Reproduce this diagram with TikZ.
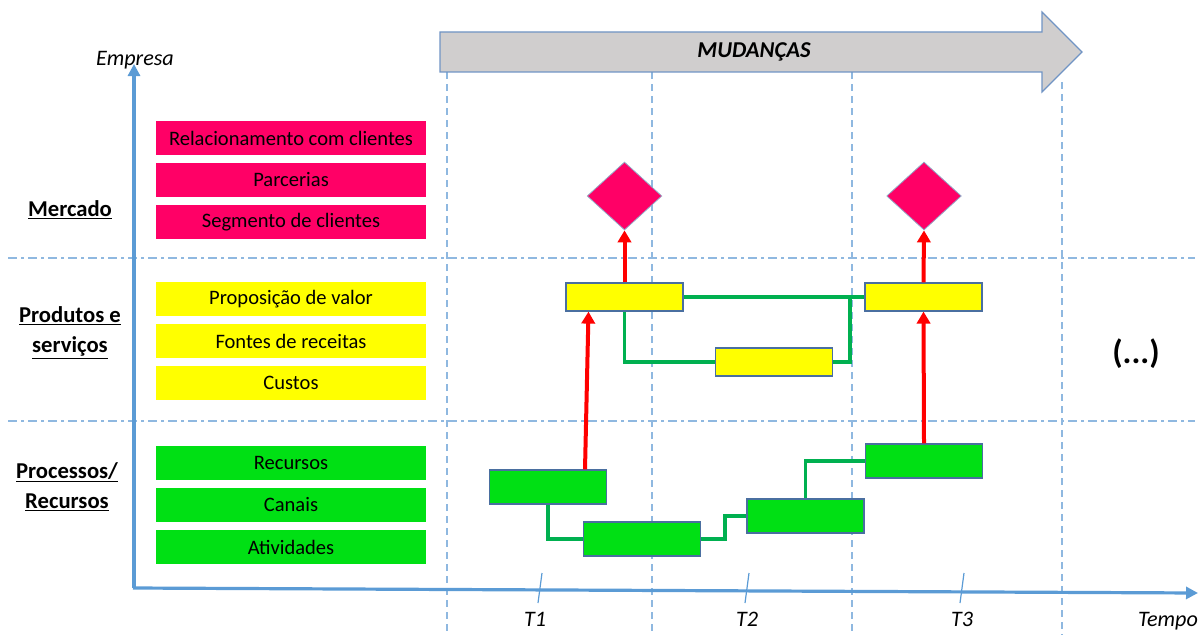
\documentclass[tikz,border=0pt]{standalone}
\usepackage{fontspec}
\setmainfont{Carlito}
\usetikzlibrary{arrows.meta,shapes.geometric,calc}
\definecolor{axisblue}{HTML}{5B9BD5}
\definecolor{gridblue}{HTML}{8FB8E0}
\definecolor{bordblue}{HTML}{4A6FA0}
\definecolor{pinkc}{HTML}{FF0066}
\definecolor{yellowc}{HTML}{FFFF00}
\definecolor{greenc}{HTML}{00E014}
\definecolor{linkgreen}{HTML}{00B050}
\definecolor{bandgray}{HTML}{D0CECE}
\definecolor{bandline}{HTML}{7094C4}
\tikzset{
  txt/.style={font=\fontsize{15.4}{18}\selectfont, text=black},
  catbox/.style={txt, minimum width=202.5pt, minimum height=25.5pt, inner sep=0pt, draw=none},
  pinkbox/.style={catbox, fill=pinkc},
  yelbox/.style={catbox, fill=yellowc},
  grnbox/.style={catbox, fill=greenc},
  tybox/.style={draw=bordblue, line width=0.9pt, fill=yellowc, minimum width=87.75pt, minimum height=21pt, inner sep=0pt},
  tgbox/.style={draw=bordblue, line width=0.9pt, fill=greenc, minimum width=87.75pt, minimum height=25.5pt, inner sep=0pt},
  dia/.style={diamond, draw=bordblue!60, line width=0.6pt, fill=pinkc, minimum width=56pt, minimum height=51pt, inner sep=0pt},
  link/.style={draw=linkgreen, line width=2.7pt},
  redarrow/.style={draw=red, line width=3pt, -{Triangle[length=9pt,width=10pt]}},
  axisline/.style={draw=axisblue, line width=2.4pt, -{Triangle[length=9pt,width=9pt]}},
  vgrid/.style={draw=gridblue, line width=0.9pt, dash pattern=on 5pt off 4pt},
  hgrid/.style={draw=gridblue, line width=0.9pt, dash pattern=on 7pt off 3pt on 2pt off 3pt},
  tick/.style={draw=axisblue, line width=0.9pt},
  seclabel/.style={font=\fontsize{17}{22.5}\selectfont\bfseries, align=center},
  itlabel/.style={font=\fontsize{16.6}{19}\selectfont\itshape, text=black},
}
\begin{document}
\begin{tikzpicture}[x=0.75pt,y=-0.75pt]
\useasboundingbox (0,0) rectangle (1201,635);

% grid lines
\draw[vgrid] (447,72) -- (447,635);
\draw[vgrid] (652,72) -- (652,635);
\draw[vgrid] (852,72) -- (852,635);
\draw[vgrid] (1062,82) -- (1062,635);
\draw[hgrid] (8,258) -- (1195,258);
\draw[hgrid] (8,421) -- (1195,421);

% changes arrow
\filldraw[fill=bandgray, draw=bandline, line width=0.9pt]
  (440,32) -- (1042,32) -- (1042,12) -- (1082,52) -- (1042,92) -- (1042,72) -- (440,72) -- cycle;
\node[font=\fontsize{17}{20}\selectfont\bfseries\itshape] (mud) at (754,52) {MUDANÇAS};

% axes
\coordinate (origin) at (134,588);
\coordinate (ytop) at (134,64);
\coordinate (xend) at (1198,593);
\draw[axisline] (origin) -- (ytop);
\draw[axisline] ($(origin)+(-1,0)$) -- (xend);
\node[itlabel] (empresa) at (135,60) {Empresa};
\node[itlabel] (tempo) at (1168,621) {Tempo};

% ticks
\draw[tick] (538,603) -- (542,573);
\draw[tick] (745,603) -- (749,573);
\draw[tick] (960,603) -- (964,573);
\node[itlabel] (t1) at (535,619) {T1};
\node[itlabel] (t2) at (747,619) {T2};
\node[itlabel] (t3) at (962,619) {T3};

% section labels
\node[seclabel] (merc) at (70,210) {\underline{Mercado}};
\node[seclabel] (prod) at (70,333) {\underline{Produtos e}\\\underline{serviços}};
\node[seclabel] (proc) at (67,487) {\underline{Processos/}\\\underline{Recursos}};

% category boxes
\node[pinkbox] (rel) at (291,138) {Relacionamento com clientes};
\node[pinkbox] (par) at (291,180) {Parcerias};
\node[pinkbox] (seg) at (291,222) {Segmento de clientes};
\node[yelbox] (pro) at (291,299) {Proposição de valor};
\node[yelbox] (fon) at (291,341) {Fontes de receitas};
\node[yelbox] (cus) at (291,383) {Custos};
\node[grnbox] (rec) at (291,463) {Recursos};
\node[grnbox] (can) at (291,505) {Canais};
\node[grnbox] (ati) at (291,547) {Atividades};

% timeline boxes
\node[tybox] (Y1) at (624.5,297) {};
\node[tybox] (Y2) at (774,362) {};
\node[tybox] (Y3) at (923.5,297) {};
\node[tgbox] (G1) at (548,487) {};
\node[tgbox] (G2) at (642,539) {};
\node[tgbox] (G3) at (805.5,516) {};
\node[tgbox] (G4) at (924,461) {};

% diamonds
\node[dia] (D1) at (624.5,196) {};
\node[dia] (D2) at (924,196) {};

% green links
\draw[link] (Y1.east) -- (Y3.west);
\draw[link] (Y1.south) |- (Y2.west);
\draw[link] (Y2.east) -- ++(17,0) |- (Y3.west);
\draw[link] (G1.south) |- (G2.west);
\draw[link] (G2.east) -- ++(24,0) |- (G3.west);
\draw[link] (G3.north) |- (G4.west);

% red arrows
\draw[redarrow] ($(G1.north)+(37,0)$) -- ($(Y1.south)+(-36,0)$);
\draw[redarrow] (G4.north) -- (Y3.south);
\draw[redarrow] (Y1.north) -- (D1.south);
\draw[redarrow] (Y3.north) -- (D2.south);

% ellipsis
\node[font=\fontsize{25}{30}\selectfont\bfseries] (more) at (1136,354) {(...)};
\end{tikzpicture}
\end{document}
